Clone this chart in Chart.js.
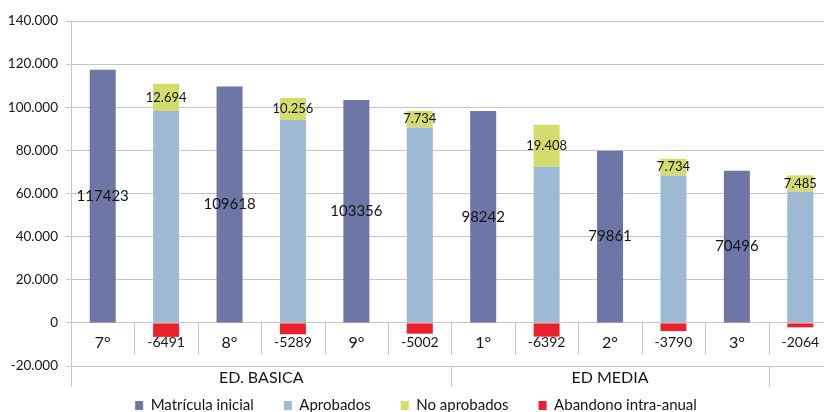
<!DOCTYPE html>
<html>
<head>
<meta charset="utf-8">
<script src="https://cdn.jsdelivr.net/npm/chart.js@4.4.1/dist/chart.umd.min.js"></script>
<style>
  html, body { margin: 0; padding: 0; background: #fff; overflow: hidden; }
  #wrap { width: 840px; height: 412px; }
</style>
</head>
<body>
<div id="wrap"><canvas id="chart"></canvas></div>
<script>
// categories along the bottom (grade / dropout count)
const categories = ['7°', '-6491', '8°', '-5289', '9°', '-5002', '1°', '-6392', '2°', '-3790', '3°', '-2064'];
const matricula   = [117423, null, 109618, null, 103356, null, 98242, null, 79861, null, 70496, null];
const aprobados   = [null, 98238, null, 94073, null, 90620, null, 72442, null, 68337, null, 60947];
const noAprobados = [null, 12694, null, 10256, null, 7734, null, 19408, null, 7734, null, 7485];
const abandono    = [null, -6491, null, -5289, null, -5002, null, -6392, null, -3790, null, -2064];
const groupLabels = ['ED. BASICA', 'ED MEDIA', ''];
const groupSizes  = [6, 5, 1];

const FONT = 'Lato';
const GRID = '#c6c6c6';

function dots(v) {
  const s = String(Math.abs(v)).replace(/\B(?=(\d{3})+(?!\d))/g, '.');
  return (v < 0 ? '-' : '') + s;
}

const extras = {
  id: 'extras',
  afterDatasetsDraw(chart) {
    const { ctx, chartArea, scales: { x, y } } = chart;
    ctx.save();
    ctx.fillStyle = '#151515';
    ctx.textAlign = 'center';
    ctx.textBaseline = 'middle';

    // labels inside the bars
    const labelSets = [[0, 15, v => String(v)], [2, 13, dots]];
    labelSets.forEach(([di, size, fmt]) => {
      const meta = chart.getDatasetMeta(di);
      ctx.font = size + 'px ' + FONT;
      meta.data.forEach((bar, i) => {
        const v = chart.data.datasets[di].data[i];
        if (v == null) return;
        ctx.fillText(fmt(v), bar.x, (bar.y + bar.base) / 2);
      });
    });

    // category row under the zero line
    const y0 = y.getPixelForValue(0);
    const step = x.getPixelForValue(1) - x.getPixelForValue(0);
    ctx.strokeStyle = GRID;
    ctx.lineWidth = 1;
    categories.forEach((c, i) => {
      const cx = x.getPixelForValue(i);
      ctx.font = (c.startsWith('-') ? 14 : 16) + 'px ' + FONT;
      ctx.fillText(c, cx, y0 + 20);
      if (i < categories.length - 1) {
        const dx = Math.round(cx + step / 2) + 0.5;
        ctx.beginPath();
        ctx.moveTo(dx, y0);
        ctx.lineTo(dx, y0 + 32);
        ctx.stroke();
      }
    });

    // group row below the chart area
    const gb = chartArea.bottom;
    ctx.beginPath();
    ctx.moveTo(chartArea.left + 0.5, gb);
    ctx.lineTo(chartArea.left + 0.5, gb + 21);
    ctx.stroke();
    let start = 0;
    ctx.font = '16px ' + FONT;
    groupLabels.forEach((g, k) => {
      const end = start + groupSizes[k] - 1;
      const left = x.getPixelForValue(start) - step / 2;
      const right = x.getPixelForValue(end) + step / 2;
      if (g) ctx.fillText(g, (left + right) / 2, gb + 12);
      const dx = Math.round(right) + 0.5;
      ctx.beginPath();
      ctx.moveTo(dx, gb);
      ctx.lineTo(dx, gb + 21);
      ctx.stroke();
      start = end + 1;
    });
    ctx.restore();
  }
};

new Chart(document.getElementById('chart'), {
  type: 'bar',
  data: {
    labels: categories,
    datasets: [
      { label: 'Matrícula inicial', data: matricula, backgroundColor: '#6d76a6' },
      { label: 'Aprobados', data: aprobados, backgroundColor: '#9db9d3' },
      { label: 'No aprobados', data: noAprobados, backgroundColor: '#d3dc6c' },
      { label: 'Abandono intra-anual', data: abandono, backgroundColor: '#e8212a' }
    ]
  },
  options: {
    responsive: true,
    maintainAspectRatio: false,
    animation: false,
    datasets: { bar: { barPercentage: 0.41, categoryPercentage: 1 } },
    layout: { padding: { top: 21, right: 8, left: 0, bottom: -11 } },
    scales: {
      x: {
        stacked: true,
        ticks: { display: false },
        grid: { display: false },
        border: { display: false },
        afterFit: s => { s.height = 2; }
      },
      y: {
        stacked: true,
        min: -20000,
        max: 140000,
        ticks: {
          stepSize: 20000,
          padding: 8,
          color: '#151515',
          font: { family: FONT, size: 13.5 },
          callback: v => dots(v)
        },
        grid: { color: GRID, tickLength: 5 },
        border: { color: GRID },
        afterFit: s => { s.width = 71; }
      }
    },
    plugins: {
      tooltip: { enabled: false },
      legend: {
        position: 'bottom',
        labels: {
          boxWidth: 8,
          boxHeight: 9,
          padding: 30,
          color: '#151515',
          font: { family: FONT, size: 15 }
        }
      }
    }
  },
  plugins: [extras]
});
</script>
</body>
</html>
